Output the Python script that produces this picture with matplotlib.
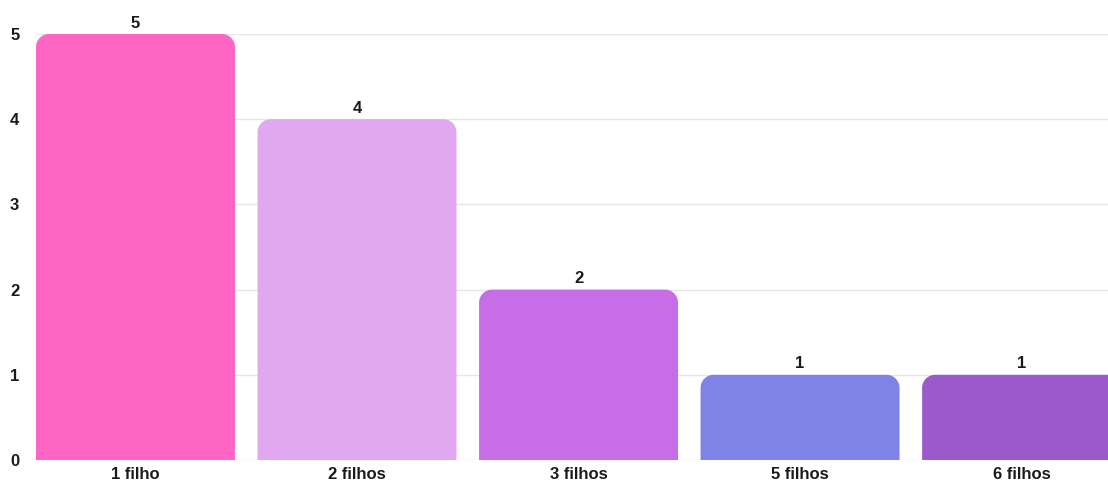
import matplotlib
matplotlib.use('Agg')
import matplotlib.pyplot as plt
from matplotlib.path import Path
from matplotlib.patches import PathPatch

categories = ['1 filho', '2 filhos', '3 filhos', '5 filhos', '6 filhos']
values = [5, 4, 2, 1, 1]
colors = ['#FF66C4', '#E0A8EF', '#C86DE8', '#7F82E6', '#9B59CB']

plt.rcParams['font.family'] = ['Liberation Sans', 'DejaVu Sans']

W, H = 1108, 483
fig = plt.figure(figsize=(W / 100, H / 100), dpi=100)
ax = fig.add_axes([36 / W, (H - 460) / H, (W - 36) / W, (460 - 34) / H])

bar_w = 0.898
ax.set_xlim(-bar_w / 2, 4.39)
ax.set_ylim(0, 5)

# corner radius in pixels -> data units
px_x = (W - 36) / (4.39 + bar_w / 2)
px_y = (460 - 34) / 5
rx = 13 / px_x
ry = 13 / px_y
k = 0.5523


def top_rounded(x0, w, h):
    x1 = x0 + w
    verts = [(x0, 0), (x0, h - ry),
             (x0, h - ry + k * ry), (x0 + rx - k * rx, h), (x0 + rx, h),
             (x1 - rx, h),
             (x1 - rx + k * rx, h), (x1, h - ry + k * ry), (x1, h - ry),
             (x1, 0), (x0, 0)]
    codes = [Path.MOVETO, Path.LINETO,
             Path.CURVE4, Path.CURVE4, Path.CURVE4,
             Path.LINETO,
             Path.CURVE4, Path.CURVE4, Path.CURVE4,
             Path.LINETO, Path.CLOSEPOLY]
    return Path(verts, codes)


for i, (v, c) in enumerate(zip(values, colors)):
    ax.add_patch(PathPatch(top_rounded(i - bar_w / 2, bar_w, v),
                           fc=c, ec='none', zorder=2))
    ax.text(i, v + 0.04, str(v), ha='center', va='bottom', fontsize=12,
            fontweight='bold', color='#1a1a1a', clip_on=False)

ax.set_yticks(range(0, 6))
ax.yaxis.grid(True, color='#E6E6E6', lw=1, zorder=0)
ax.set_axisbelow(True)
ax.set_xticks(range(len(categories)))
ax.set_xticklabels(categories)
ax.tick_params(length=0, labelsize=12, colors='#1a1a1a', pad=5)
ax.tick_params(axis='y', pad=12)
for lbl in ax.get_xticklabels() + ax.get_yticklabels():
    lbl.set_fontweight('bold')
for s in ax.spines.values():
    s.set_visible(False)

fig.savefig('out.png', dpi=100)
